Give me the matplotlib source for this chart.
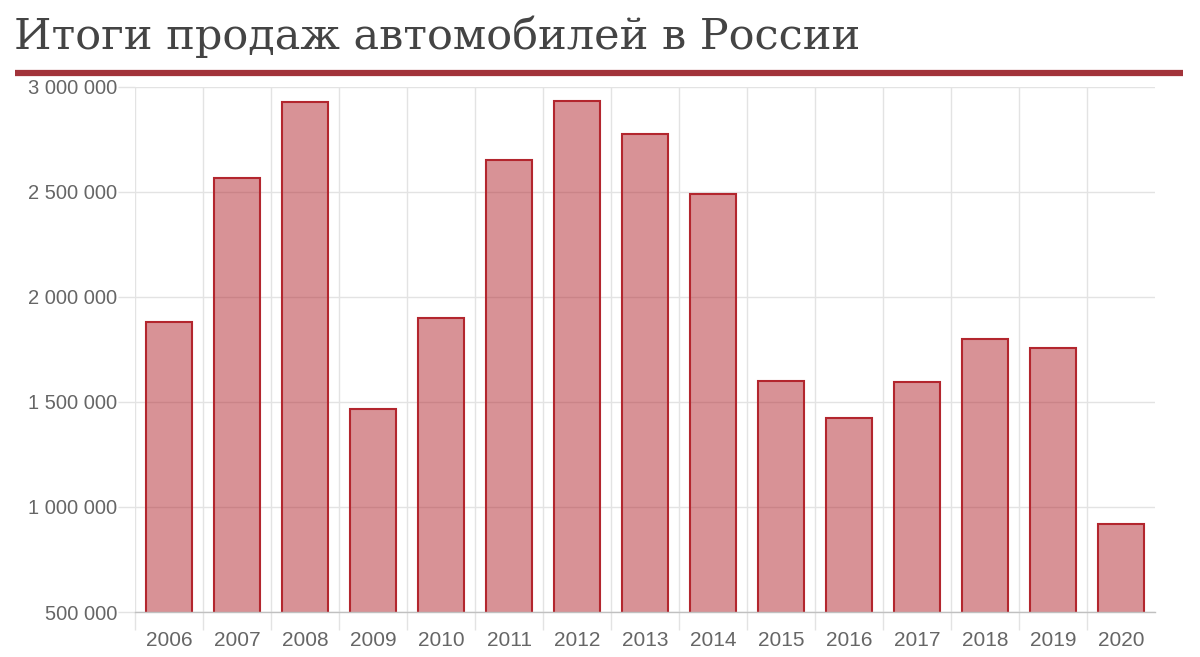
import matplotlib
matplotlib.use("Agg")
import matplotlib.pyplot as plt
import numpy as np

years = ["2006", "2007", "2008", "2009", "2010", "2011", "2012", "2013",
         "2014", "2015", "2016", "2017", "2018", "2019", "2020"]
sales = [1881000, 2567000, 2929000, 1467000, 1900000, 2652000, 2933000, 2776000,
         2491000, 1601000, 1425000, 1595000, 1800000, 1759000, 919000]
yticks = [500000, 1000000, 1500000, 2000000, 2500000, 3000000]
ytick_labels = ["500 000", "1 000 000", "1 500 000", "2 000 000", "2 500 000", "3 000 000"]
title = "Итоги продаж автомобилей в России"

W, H = 1200, 657
fig = plt.figure(figsize=(W / 100, H / 100), dpi=100)
ax = fig.add_axes([135 / W, 1 - 612 / H, 1020 / W, 525 / H])

x = np.arange(len(years))
ax.bar(x, sales, width=0.69, color=(179/255, 38/255, 46/255, 0.5),
       edgecolor="#b3262e", linewidth=1.5, zorder=3)

ax.set_xlim(-0.5, len(years) - 0.5)
ax.set_ylim(500000, 3000000)
ax.set_yticks(yticks)
ax.set_yticklabels(ytick_labels)
ax.set_xticks(x)
ax.set_xticklabels(years)
ax.set_xticks(np.arange(len(years)) - 0.5, minor=True)

for s in ["top", "right", "left"]:
    ax.spines[s].set_visible(False)
ax.spines["bottom"].set_color("#c0c0c0")
ax.spines["bottom"].set_linewidth(1)
ax.spines["bottom"].set_zorder(4)

ax.grid(which="minor", axis="x", color="#e3e3e3", linewidth=1, zorder=0)
ax.grid(which="major", axis="y", color="#e3e3e3", linewidth=1, zorder=0)
ax.tick_params(axis="x", which="major", length=0, pad=14, labelsize=15,
               labelcolor="#666666")
ax.tick_params(axis="x", which="minor", length=13, width=1, color="#e3e3e3")
ax.tick_params(axis="y", which="major", length=12, width=1, color="#e3e3e3",
               pad=1, labelsize=14.5, labelcolor="#666666")
for lab in ax.get_xticklabels() + ax.get_yticklabels():
    lab.set_fontfamily("Liberation Sans")

fig.text(14 / W, 1 - 49 / H, title, fontsize=31, color="#444444",
         family="DejaVu Serif", ha="left", va="baseline")
fig.add_artist(plt.Line2D([15 / W, 1183 / W], [1 - 72.5 / H, 1 - 72.5 / H],
                          color="#a2333a", linewidth=4.5, solid_capstyle="butt",
                          transform=fig.transFigure))

fig.savefig("out.png", dpi=100)
